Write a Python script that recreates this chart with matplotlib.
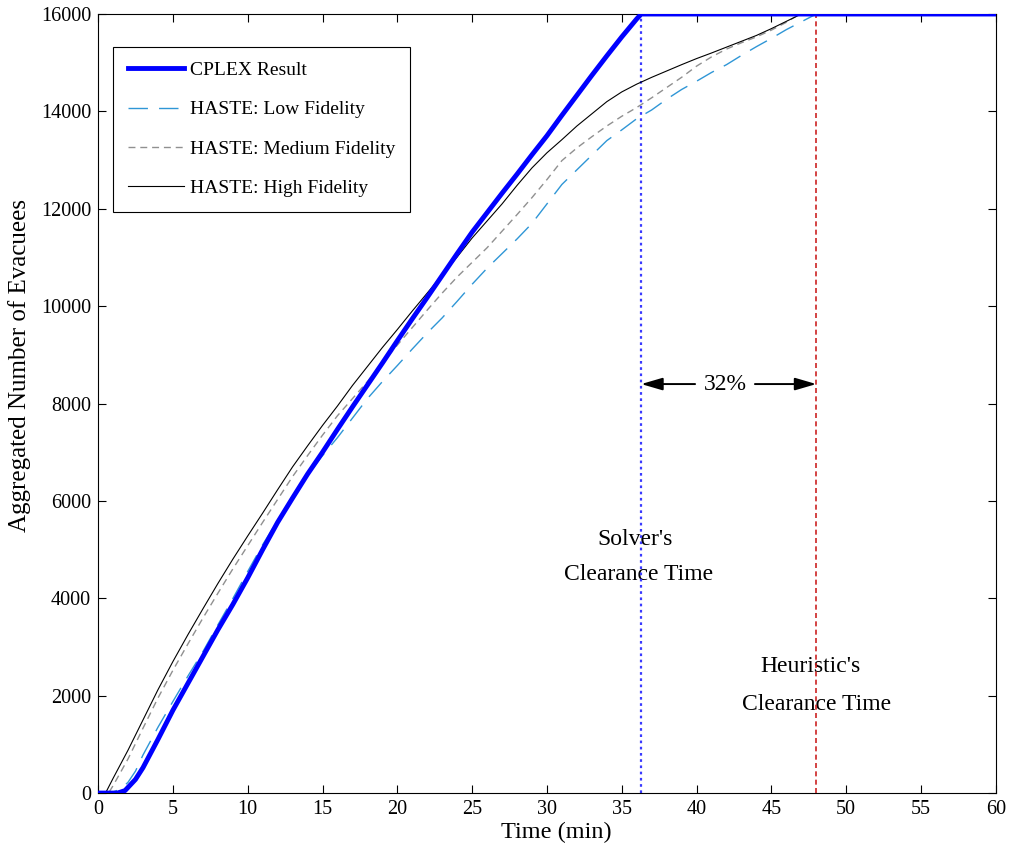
import matplotlib
matplotlib.use("Agg")
import matplotlib.pyplot as plt

plt.rcParams['font.family'] = ['Liberation Serif', 'DejaVu Serif']

# CPLEX result
cplex_t = [0, 1.3, 1.8, 2.5, 3, 4, 5, 6, 7, 8, 9, 10, 11, 12, 13, 14, 15, 16, 17, 18, 19,
           20, 21, 22, 23, 24, 25, 26, 27, 28, 29, 30, 31, 32, 33, 34, 35, 36, 36.3, 60]
cplex_n = [0, 0, 50, 280, 520, 1100, 1700, 2250, 2800, 3350, 3870, 4420, 5000, 5560, 6060,
           6550, 7000, 7470, 7930, 8380, 8830, 9290, 9740, 10180, 10630, 11080, 11520, 11920,
           12320, 12710, 13110, 13500, 13920, 14330, 14740, 15140, 15530, 15900, 16000, 16000]

# HASTE low fidelity
low_t = [0, 0.8, 1.5, 2, 2.5, 3, 4, 5, 6, 7, 8, 9, 10, 11, 12, 13, 14, 15, 16, 17, 18, 19, 20,
         21, 22, 23, 24, 25, 26, 27, 28, 29, 30, 31, 32, 33, 34, 35, 36, 37, 38, 39, 40, 41, 42,
         43, 44, 45, 46, 47, 48, 60]
low_n = [0, 0, 80, 220, 450, 780, 1350, 1880, 2400, 2900, 3450, 3990, 4550, 5100, 5600, 6100,
         6530, 6930, 7300, 7700, 8100, 8450, 8780, 9120, 9450, 9760, 10100, 10450, 10780, 11080,
         11380, 11700, 12100, 12500, 12800, 13100, 13400, 13620, 13850, 14030, 14250, 14450,
         14620, 14800, 14960, 15150, 15330, 15500, 15680, 15840, 16000, 16000]

# HASTE medium fidelity
med_t = [0, 0.7, 1, 2, 3, 4, 5, 6, 7, 8, 9, 10, 11, 12, 13, 14, 15, 16, 17, 18, 19, 20, 21, 22,
         23, 24, 25, 26, 27, 28, 29, 30, 31, 32, 33, 34, 35, 36, 37, 38, 39, 40, 41, 42, 43, 44,
         45, 46, 46.9, 60]
med_n = [0, 0, 150, 700, 1330, 1950, 2520, 3060, 3590, 4100, 4600, 5080, 5560, 6030, 6500,
         6930, 7350, 7750, 8100, 8450, 8830, 9200, 9560, 9920, 10270, 10600, 10900, 11200, 11540,
         11880, 12230, 12600, 12990, 13250, 13480, 13700, 13900, 14080, 14280, 14490, 14700,
         14930, 15120, 15280, 15410, 15530, 15670, 15830, 16000, 16000]

# HASTE high fidelity
high_t = [0, 0.5, 1, 2, 3, 4, 5, 6, 7, 8, 9, 10, 11, 12, 13, 14, 15, 16, 17, 18, 19, 20, 21, 22,
          23, 24, 25, 26, 27, 28, 29, 30, 31, 32, 33, 34, 35, 36, 37, 38, 39, 40, 41, 42, 43, 44,
          45, 46, 47, 60]
high_n = [0, 0, 300, 880, 1500, 2120, 2700, 3250, 3780, 4300, 4800, 5280, 5750, 6230, 6700,
          7130, 7550, 7950, 8370, 8760, 9150, 9520, 9900, 10270, 10640, 11010, 11400, 11750,
          12100, 12480, 12840, 13150, 13420, 13700, 13950, 14200, 14400, 14560, 14700, 14830,
          14960, 15085, 15200, 15320, 15440, 15560, 15700, 15850, 16000, 16000]

solver_time = 36.3
heuristic_time = 48.0
gap_label = "32%"

fig = plt.figure(figsize=(10.11, 8.5), dpi=100)
ax = fig.add_axes([0.097, 0.067, 0.888, 0.9165])

ax.plot(cplex_t, cplex_n, color='#0000ff', lw=3.5, label='CPLEX Result', zorder=5)
ax.plot(low_t, low_n, color='#2f96d6', lw=1.0, dashes=(14, 8), label='HASTE: Low Fidelity', zorder=3)
ax.plot(med_t, med_n, color='#909090', lw=1.0, dashes=(5, 3.5), label='HASTE: Medium Fidelity', zorder=3)
ax.plot(high_t, high_n, color='black', lw=0.8, label='HASTE: High Fidelity', zorder=4)

ax.axvline(solver_time, color='#3a3aff', lw=1.6, ls=(0, (1.2, 1.6)), zorder=2)
ax.axvline(heuristic_time, color='#cc2222', lw=1.2, ls=(0, (3, 2)), zorder=2)

arrow_y = 8400
astyle = '-|>,head_length=1.3,head_width=0.38'
ax.annotate('', xy=(solver_time, arrow_y), xytext=(39.9, arrow_y),
            arrowprops=dict(arrowstyle=astyle, color='black', lw=1.4, shrinkA=0, shrinkB=0))
ax.annotate('', xy=(heuristic_time, arrow_y), xytext=(43.9, arrow_y),
            arrowprops=dict(arrowstyle=astyle, color='black', lw=1.4, shrinkA=0, shrinkB=0))
ax.text(41.9, arrow_y, gap_label, ha='center', va='center', fontsize=17)

ax.text(35.9, 5200, "Solver's", ha='center', va='center', fontsize=17, zorder=1)
ax.text(36.1, 4480, "Clearance Time", ha='center', va='center', fontsize=17, zorder=1)
ax.text(47.6, 2590, "Heuristic's", ha='center', va='center', fontsize=17, zorder=1)
ax.text(48.0, 1810, "Clearance Time", ha='center', va='center', fontsize=17, zorder=1)

ax.set_xlim(0, 60)
ax.set_ylim(0, 16000)
ax.set_xticks(range(0, 61, 5))
ax.set_yticks(range(0, 16001, 2000))
ax.tick_params(direction='in', top=True, right=True, labelsize=14.5, length=6, width=0.8, pad=5)
for s in ax.spines.values():
    s.set_linewidth(0.8)

ax.set_xlabel('Time (min)', fontsize=17.5)
ax.xaxis.set_label_coords(0.51, -0.051, transform=ax.transAxes)
ax.xaxis.label.set_va('center')
ax.set_ylabel('Aggregated Number of Evacuees', fontsize=18)
ax.yaxis.set_label_coords(-0.087, 0.549, transform=ax.transAxes)
ax.yaxis.label.set_va('center')

leg = ax.legend(loc='upper left', bbox_to_anchor=(0.0167, 0.958), borderaxespad=0,
                fontsize=14, fancybox=False, edgecolor='black', framealpha=1,
                handlelength=2.9, labelspacing=1.12, handletextpad=0.3, borderpad=0.75)
leg.get_frame().set_linewidth(0.8)

fig.savefig('out.png', dpi=100)
